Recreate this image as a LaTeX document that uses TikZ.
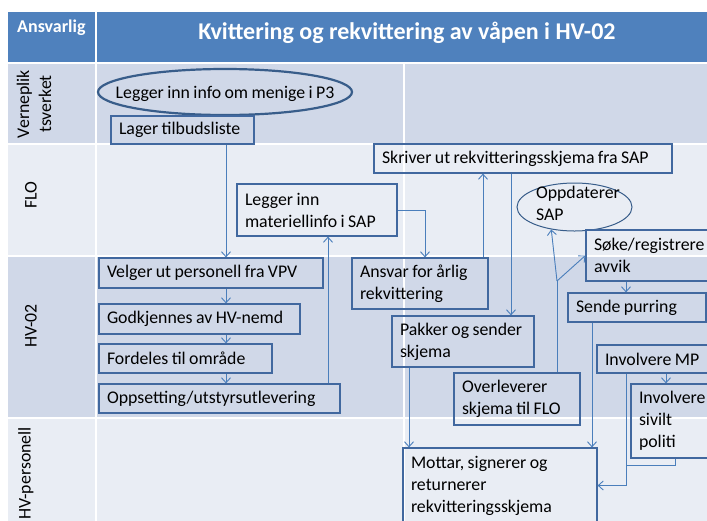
\documentclass[tikz,border=0pt]{standalone}
\usepackage{fontspec}
\setmainfont{Carlito}
\usetikzlibrary{arrows.meta,shapes.geometric}
\definecolor{hdrblue}{HTML}{4F81BD}
\definecolor{rowdark}{HTML}{D0D8E8}
\definecolor{rowlight}{HTML}{E9EDF4}
\definecolor{boxline}{HTML}{41689F}
\definecolor{connline}{HTML}{4A7EBB}
\definecolor{ovalline}{HTML}{385D8A}
\newcommand\narrowspaces{\spaceskip=3.4pt plus 1pt minus 0.5pt\relax}

\begin{document}
\begin{tikzpicture}[x=1pt,y=-1pt,
  txt/.style={font=\fontsize{17.8}{22}\selectfont, execute at begin node=\narrowspaces},
  stepbox/.style={txt, draw=boxline, line width=1.2pt, inner xsep=8pt, inner ysep=2pt, align=left},
  oval/.style={txt, ellipse, draw=ovalline, inner sep=0pt},
  conn/.style={draw=connline, line width=0.9pt, -{Straight Barb[length=5pt,width=9pt]}},
  link/.style={draw=connline, line width=0.9pt},
  lane/.style={txt, rotate=90, inner sep=0pt, align=center},
  gridline/.style={draw=white, line width=1.6pt},
]
\useasboundingbox (0,0) rectangle (707,520);
\clip (0,0) rectangle (707,520);

% table background: header band and four swim lanes
\fill[hdrblue] (8,12) rectangle (720,62);
\fill[rowdark]  (8,64)  rectangle (720,143);
\fill[rowlight] (8,145) rectangle (720,255);
\fill[rowdark]  (8,257) rectangle (720,417);
\fill[rowlight] (8,419) rectangle (720,540);
\draw[gridline] (96,12) -- (96,540);
\draw[gridline] (404,63) -- (404,540);

% header texts
\node[font=\bfseries\fontsize{18}{22}\selectfont, text=white, anchor=base west, inner sep=0pt] (ansv) at (17,32) {Ansvarlig};
\node[font=\bfseries\fontsize{24}{28}\selectfont, text=white, anchor=base, inner sep=0pt] (title) at (407,39) {Kvittering og rekvittering av våpen i HV-02};

% lane labels
\node[lane] (lanev) at (34,104) {Verneplik\\tsverket};
\node[lane] (lanef) at (31,195) {FLO};
\node[lane] (laneh) at (31,326) {HV-02};
\node[lane, anchor=east] (lanep) at (26,427) {HV-personell};

% process steps
\node[oval, line width=2.2pt, minimum width=254pt, minimum height=46pt] (menige) at (225,92)
  {\makebox[0pt]{\raisebox{-6pt}[0pt][0pt]{Legger inn info om menige i P3}}};
\node[stepbox, minimum width=143pt, minimum height=28pt, text width=127pt] (lager) at (182.5,130) {Lager~tilbudsliste};
\node[stepbox, minimum width=224pt, minimum height=30pt, text width=208pt] (velger) at (211,273) {Velger~ut~personell~fra~VPV};
\node[stepbox, minimum width=201pt, minimum height=30pt, text width=185pt] (godkj) at (199.5,319) {Godkjennes~av~HV-nemd};
\node[stepbox, minimum width=173pt, minimum height=29pt, text width=157pt] (fordel) at (185.5,358.5) {Fordeles~til~område};
\node[stepbox, minimum width=241pt, minimum height=29pt, text width=225pt] (oppset) at (219.5,398.5) {Oppsetting/utstyrsutlevering};
\node[stepbox, minimum width=160pt, minimum height=52pt, text width=144pt] (materiell) at (317,210) {Legger~inn\\materiellinfo~i~SAP};
\node[stepbox, minimum width=136pt, minimum height=51pt, text width=120pt] (ansvar) at (420,283.5) {Ansvar~for~årlig\\rekvittering};
\node[stepbox, minimum width=298pt, minimum height=29pt, text width=282pt] (skriver) at (523,158.5) {Skriver~ut~rekvitteringsskjema~fra~SAP};
\node[stepbox, minimum width=142pt, minimum height=51pt, text width=126pt] (pakker) at (463,341.5) {Pakker~og~sender\\skjema};
\node[stepbox, minimum width=126pt, minimum height=52pt, text width=110pt] (overlev) at (517,399) {Overleverer\\skjema~til~FLO};
\node[stepbox, minimum width=194pt, minimum height=75pt, text width=178pt] (mottar) at (500,485.5) {Mottar,~signerer~og\\returnerer\\rekvitteringsskjema};
\node[oval, line width=1pt, minimum width=115pt, minimum height=48pt] (oppdat) at (574.5,207)
  {\makebox[0pt][l]{\hspace*{-38.5pt}\raisebox{9pt}[0pt][0pt]{\begin{tabular}[t]{@{}l@{}}Oppdaterer\\SAP\end{tabular}}}};
\node[stepbox, minimum width=150pt, minimum height=51pt, text width=134pt] (soke) at (661,255.5) {Søke/registrere\\avvik};
\node[stepbox, minimum width=138pt, minimum height=29pt, text width=122pt] (sende) at (637,307.5) {Sende~purring};
\node[stepbox, minimum width=114pt, minimum height=28pt, text width=98pt] (invmp) at (654,359) {Involvere~MP};
\node[stepbox, minimum width=110pt, minimum height=74pt, text width=94pt] (invpol) at (686,421) {Involvere\\sivilt\\politi};

% x positions of the vertical connector runs
\coordinate (xa) at (226,0);
\coordinate (xb) at (328,0);
\coordinate (xc) at (425,0);
\coordinate (xd) at (483,0);
\coordinate (xe) at (511,0);
\coordinate (xf) at (409,0);
\coordinate (xg) at (557,0);
\coordinate (xi) at (626,0);
\coordinate (xj) at (592,0);
\coordinate (xk) at (666,0);
\coordinate (xm) at (675,0);
\coordinate (fork) at (557,281);
\coordinate (join) at (626,465);

% connectors
\draw[conn] (lager.south -| xa) -- (velger.north -| xa);
\draw[conn] (velger.south -| xa) -- (godkj.north -| xa);
\draw[conn] (godkj.south -| xa) -- (fordel.north -| xa);
\draw[conn] (fordel.south -| xa) -- (oppset.north -| xa);
\draw[conn] (oppset.north -| xb) -- (materiell.south -| xb);
\draw[conn] (materiell.east) -| (ansvar.north -| xc);
\draw[conn] (ansvar.north -| xd) -- (skriver.south -| xd);
\draw[conn] (skriver.south -| xe) -- (pakker.north -| xe);
\draw[conn] (pakker.south -| xf) -- (mottar.north -| xf);
\draw[link] (overlev.north -| xg) -- (fork);
\draw[conn] (fork) -- (oppdat.224);
\draw[conn] (fork) -- (soke.west);
\draw[conn] (soke.south -| xi) -- (sende.north -| xi);
\draw[conn] (sende.south -| xj) -- (mottar.north -| xj);
\draw[conn] (invmp.south -| xk) -- (invpol.north -| xk);
\draw[conn] (invmp.south -| xi) |- (mottar.east);
\draw[link] (invpol.south -| xm) |- (join);
\end{tikzpicture}
\end{document}
